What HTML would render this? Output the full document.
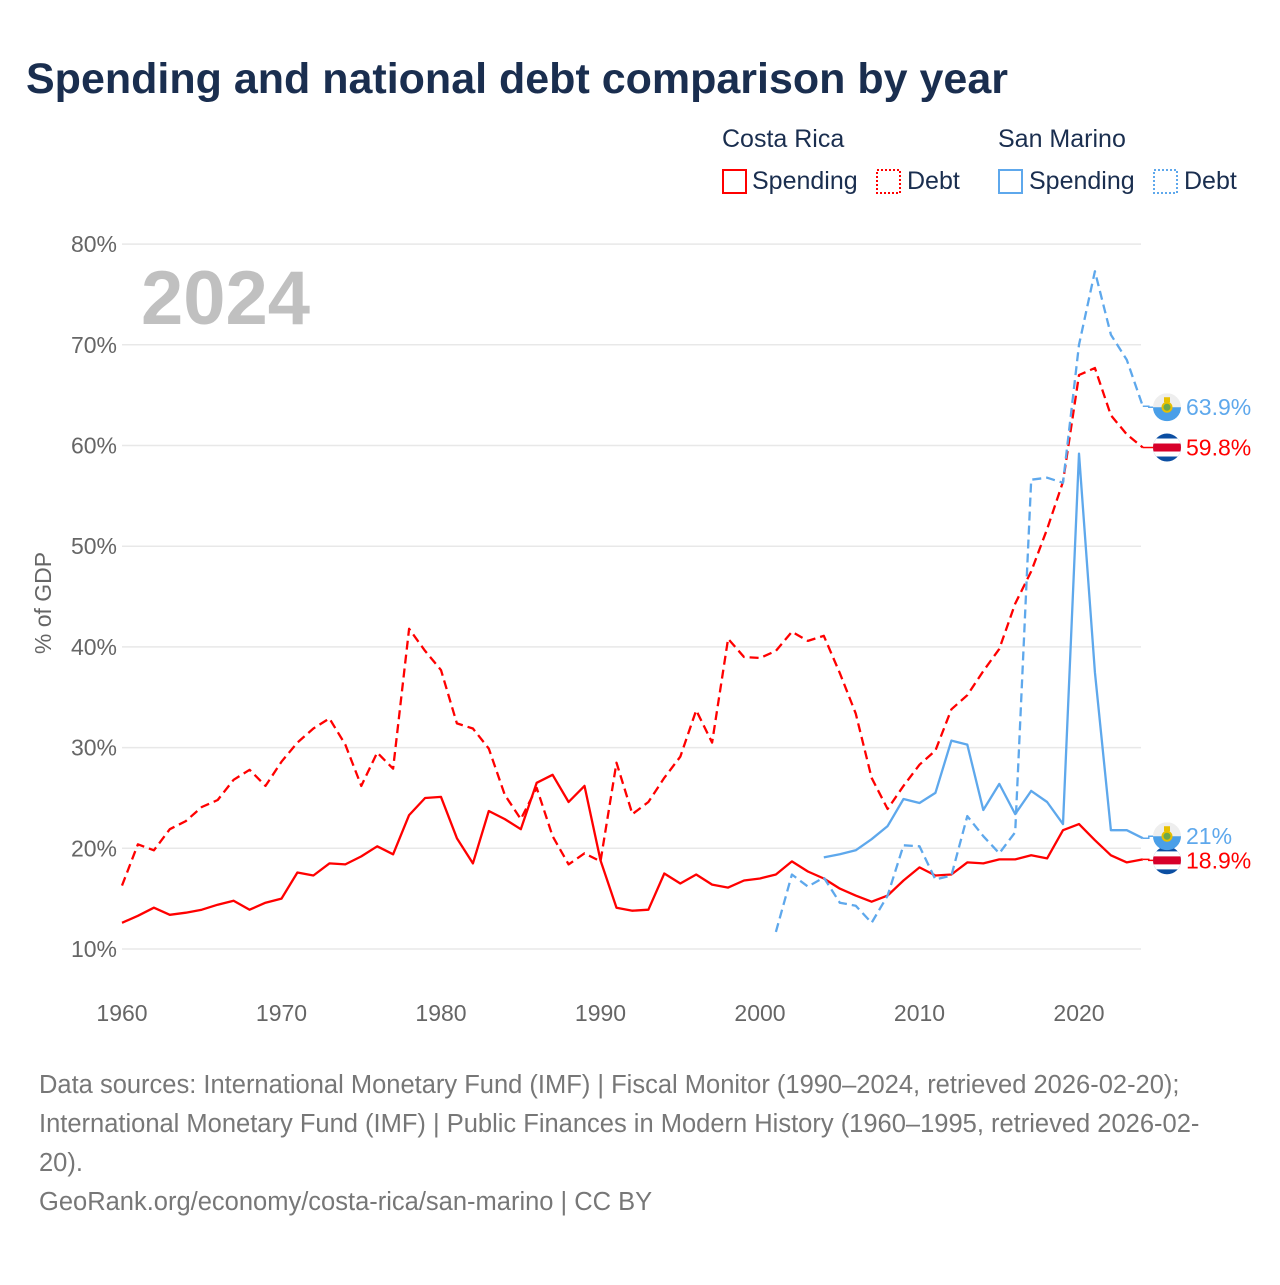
<!DOCTYPE html>
<html><head><meta charset="utf-8">
<style>
html,body{margin:0;padding:0;background:#fff;}
body{width:1280px;height:1280px;position:relative;font-family:"Liberation Sans",sans-serif;overflow:hidden;}
svg text{font-family:"Liberation Sans",sans-serif;}
</style></head>
<body>
<svg id="chart" width="1280" height="1280" viewBox="0 0 1280 1280">
  <defs id="defs"></defs>
  <text x="26" y="93" font-size="43" font-weight="bold" fill="#1a2e4f">Spending and national debt comparison by year</text>
  <g font-size="25" fill="#1a2e4f">
    <text x="722" y="147">Costa Rica</text>
    <text x="998" y="147">San Marino</text>
    <g><rect x="723" y="170" width="23" height="23" fill="none" stroke="#f00" stroke-width="2"/><text x="752" y="189">Spending</text></g>
    <g><rect x="877" y="170" width="23" height="23" fill="none" stroke="#f00" stroke-width="2" stroke-dasharray="2,2"/><text x="907" y="189">Debt</text></g>
    <g><rect x="999" y="170" width="23" height="23" fill="none" stroke="#5ea8ec" stroke-width="2"/><text x="1029" y="189">Spending</text></g>
    <g><rect x="1154" y="170" width="23" height="23" fill="none" stroke="#5ea8ec" stroke-width="2" stroke-dasharray="2,2"/><text x="1184" y="189">Debt</text></g>
  </g>
  <g id="grid"></g>
  <g id="yticks" font-size="23" fill="#666" text-anchor="end"></g>
  <g id="xticks" font-size="23" fill="#666" text-anchor="middle"></g>
  <text transform="translate(51,603) rotate(-90)" font-size="23" fill="#666" text-anchor="middle">% of GDP</text>
  <text x="141" y="324" font-size="76" font-weight="bold" fill="#c0c0c0">2024</text>
  <g id="series"></g>
  <g id="endlabels"></g>
  <g font-size="25.5" fill="#777">
    <text x="39" y="1093">Data sources: International Monetary Fund (IMF) | Fiscal Monitor (1990–2024, retrieved 2026-02-20);</text>
    <text x="39" y="1132">International Monetary Fund (IMF) | Public Finances in Modern History (1960–1995, retrieved 2026-02-</text>
    <text x="39" y="1171">20).</text>
    <text x="39" y="1210">GeoRank.org/economy/costa-rica/san-marino | CC BY</text>
  </g>
</svg>
<script>
const yTicks = [10,20,30,40,50,60,70,80];
const xTicks = [1960,1970,1980,1990,2000,2010,2020];
const crStartYear = 1960;
const crSpending = [12.6,13.3,14.1,13.4,13.6,13.9,14.4,14.8,13.9,14.6,15.0,17.6,17.3,18.5,18.4,19.2,20.2,19.4,23.3,25.0,25.1,21.0,18.5,23.7,22.9,21.9,26.5,27.3,24.6,26.2,18.8,14.1,13.8,13.9,17.5,16.5,17.4,16.4,16.1,16.8,17.0,17.4,18.7,17.7,17.0,16.0,15.3,14.7,15.3,16.8,18.1,17.3,17.4,18.6,18.5,18.9,18.9,19.3,19.0,21.8,22.4,20.8,19.3,18.6,18.9];
const crDebt = [16.3,20.4,19.8,21.9,22.7,24.1,24.8,26.8,27.8,26.2,28.6,30.5,31.9,32.9,30.3,26.2,29.5,27.9,41.8,39.6,37.7,32.4,31.9,29.9,25.3,22.9,26.0,21.2,18.4,19.5,18.7,28.5,23.4,24.6,27.0,29.1,33.7,30.5,40.8,39.0,38.9,39.6,41.5,40.6,41.1,37.4,33.4,27.0,23.9,26.2,28.3,29.7,33.8,35.2,37.6,39.8,44.3,47.5,51.7,56.4,67.0,67.7,63.0,61.1,59.8];
const smSpendStartYear = 2004;
const smSpending = [19.1,19.4,19.8,20.9,22.2,24.9,24.5,25.5,30.7,30.3,23.8,26.4,23.4,25.7,24.6,22.4,59.2,37.5,21.8,21.8,21.0];
const smDebtStartYear = 2001;
const smDebt = [11.7,17.4,16.2,17.1,14.6,14.3,12.6,15.3,20.3,20.2,16.9,17.3,23.2,21.2,19.5,21.6,56.6,56.8,56.3,70.0,77.3,71.0,68.5,63.9];

const NS='http://www.w3.org/2000/svg';
const xS = yr => 122 + (yr-1960)*15.95;
const yS = v => 949 - (v-10)*10.07;
function mk(tag, attrs, parent){const e=document.createElementNS(NS,tag);for(const k in attrs)e.setAttribute(k,attrs[k]);parent.appendChild(e);return e;}
const grid=document.getElementById('grid'), yt=document.getElementById('yticks'), xt=document.getElementById('xticks');
yTicks.forEach(v=>{
  const l=mk('line',{x1:122,x2:1141,y1:yS(v),y2:yS(v),stroke:'#e8e8e8','stroke-width':1.5},grid);
  
  
  const t=mk('text',{x:117,y:yS(v)+8},yt);t.textContent=v+'%';
  
  
});
xTicks.forEach(yr=>{
  const t=mk('text',{x:xS(yr),y:1021},xt);t.textContent=yr;
  
  
});
const ser=document.getElementById('series');
function line(vals,start,color,dash,name){
  const pts=vals.map((v,i)=>xS(start+i).toFixed(1)+','+yS(v).toFixed(1)).join(' ');
  const p=mk('polyline',{points:pts,fill:'none',stroke:color,'stroke-width':2.3,'stroke-linejoin':'round'},ser);
  if(dash)p.setAttribute('stroke-dasharray','9,5');
  
  
  const lastX=xS(start+vals.length-1), lastY=yS(vals[vals.length-1]);
  return [lastX,lastY];
}
const ends=[];
ends.push([line(crDebt,crStartYear,'#ff0000',true,'line-cr-debt'),crDebt[crDebt.length-1],'#ff0000','cr']);
ends.push([line(crSpending,crStartYear,'#ff0000',false,'line-cr-spending'),crSpending[crSpending.length-1],'#ff0000','cr']);
ends.push([line(smDebt,smDebtStartYear,'#5ea8ec',true,'line-sm-debt'),smDebt[smDebt.length-1],'#5ea8ec','sm']);
ends.push([line(smSpending,smSpendStartYear,'#5ea8ec',false,'line-sm-spending'),smSpending[smSpending.length-1],'#5ea8ec','sm']);
const el=document.getElementById('endlabels');
const defs=document.getElementById('defs');
const labY={0:yS(crDebt[crDebt.length-1]),1:yS(crSpending[crSpending.length-1])+1,2:yS(smDebt[smDebt.length-1])+1,3:yS(smSpending[smSpending.length-1])-2};
ends.forEach((e,i)=>{
  const [[lx,ly],val,color,c]=e;
  const cy=labY[i], cx=1167, r=14;
  mk('polyline',{points:`${lx},${ly} ${lx+6},${ly} ${lx+6},${cy} ${cx-r},${cy}`,fill:'none',stroke:color,'stroke-width':1.5},el);
  const cp=mk('clipPath',{id:'fc'+i},defs);
  mk('circle',{cx:cx,cy:cy,r:r},cp);
  const g=mk('g',{'clip-path':'url(#fc'+i+')'},el);
  
  
  if(c==='cr'){
    mk('rect',{x:cx-r,y:cy-r,width:2*r,height:2*r,fill:'#0b4ea2'},g);
    mk('rect',{x:cx-r,y:cy-9,width:2*r,height:18,fill:'#fff'},g);
    mk('rect',{x:cx-r,y:cy-4,width:2*r,height:8,fill:'#d7002a'},g);
  } else {
    mk('rect',{x:cx-r,y:cy-r,width:2*r,height:r,fill:'#eee'},g);
    mk('rect',{x:cx-r,y:cy,width:2*r,height:r,fill:'#4a9fe8'},g);
    mk('circle',{cx:cx,cy:cy,r:4.5,fill:'#6aa84f',stroke:'#e8c000','stroke-width':2},g);
    mk('rect',{x:cx-3,y:cy-10,width:6,height:5,fill:'#e8c000'},g);
  }
  const t=mk('text',{x:1186,y:cy+8,'font-size':23,fill:color},el);
  t.textContent=val+'%';
  
  
});
</script>
</body></html>
